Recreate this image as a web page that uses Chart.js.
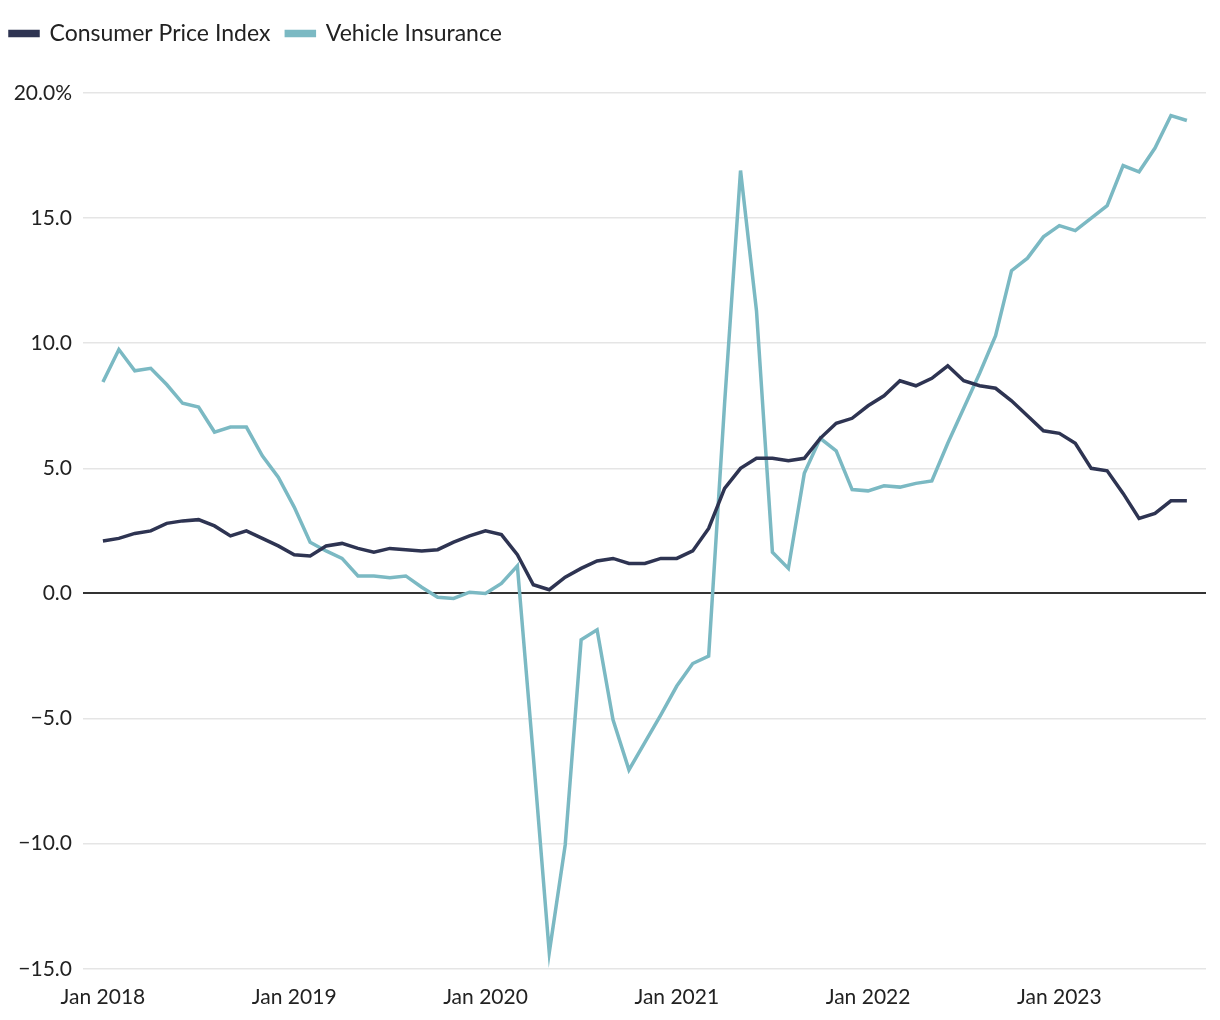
<!DOCTYPE html>
<html>
<head>
<meta charset="utf-8">
<script src="https://cdn.jsdelivr.net/npm/chart.js@4.4.0/dist/chart.umd.min.js"></script>
<style>
  html, body { margin: 0; padding: 0; background: #fff; }
  #wrap { width: 1220px; height: 1020px; }
</style>
</head>
<body>
<div id="wrap"><canvas id="myChart" width="1220" height="1020"></canvas></div>
<script>
// monthly categories, Jan 2018 .. Sep 2023
const years = [2018, 2019, 2020, 2021, 2022, 2023];
const monthNames = ["Jan","Feb","Mar","Apr","May","Jun","Jul","Aug","Sep","Oct","Nov","Dec"];
const months = [];
years.forEach(y => monthNames.forEach(m => months.push(m + " " + y)));
months.length = 69;

// year-over-year change, %
const cpi = [2.1, 2.2, 2.4, 2.5, 2.8, 2.9, 2.95, 2.7, 2.3, 2.5, 2.2, 1.9,
  1.55, 1.5, 1.9, 2.0, 1.8, 1.65, 1.8, 1.75, 1.7, 1.75, 2.05, 2.3,
  2.5, 2.35, 1.55, 0.35, 0.15, 0.65, 1.0, 1.3, 1.4, 1.2, 1.2, 1.4,
  1.4, 1.7, 2.6, 4.2, 5.0, 5.4, 5.4, 5.3, 5.4, 6.2, 6.8, 7.0,
  7.5, 7.9, 8.5, 8.3, 8.6, 9.1, 8.5, 8.3, 8.2, 7.7, 7.1, 6.5,
  6.4, 6.0, 5.0, 4.9, 4.0, 3.0, 3.2, 3.7, 3.7];
const vehicleIns = [8.45, 9.75, 8.9, 9.0, 8.35, 7.6, 7.45, 6.45, 6.65, 6.65, 5.5, 4.65,
  3.45, 2.05, 1.7, 1.4, 0.7, 0.7, 0.63, 0.7, 0.25, -0.15, -0.2, 0.05,
  0.0, 0.4, 1.1, -6.5, -14.35, -10.05, -1.85, -1.45, -5.05, -7.05, -5.95, -4.85,
  -3.7, -2.8, -2.5, 7.6, 16.9, 11.3, 1.65, 1.0, 4.8, 6.2, 5.7, 4.15,
  4.1, 4.3, 4.25, 4.4, 4.5, 6.0, 7.4, 8.8, 10.3, 12.9, 13.4, 14.25,
  14.7, 14.5, 15.0, 15.5, 17.1, 16.85, 17.8, 19.1, 18.9];

const yTicks = [-15, -10, -5, 0, 5, 10, 15, 20];
const xTickIdx = [0, 12, 24, 36, 48, 60];

const FONT = "'Source Sans Pro', Lato, 'Noto Sans', sans-serif";

// make the legend block taller so the plot starts lower
const legendSpace = {
  id: "legendSpace",
  beforeInit(chart) {
    const fit = chart.legend.fit;
    chart.legend.fit = function () {
      fit.bind(chart.legend)();
      this.height += 38;
    };
  }
};

const ctx = document.getElementById("myChart").getContext("2d");
const chart = new Chart(ctx, {
  type: "line",
  data: {
    datasets: [{
      label: "Consumer Price Index",
      data: cpi.map((v, i) => ({ x: i, y: v })),
      borderColor: "#2e3452",
      backgroundColor: "#2e3452",
      borderWidth: 3.5,
      pointRadius: 0,
      tension: 0
    }, {
      label: "Vehicle Insurance",
      data: vehicleIns.map((v, i) => ({ x: i, y: v })),
      borderColor: "#7bb9c3",
      backgroundColor: "#7bb9c3",
      borderWidth: 3.5,
      pointRadius: 0,
      tension: 0
    }]
  },
  plugins: [legendSpace],
  options: {
    responsive: false,
    animation: false,
    devicePixelRatio: 1,
    layout: { padding: { left: -6, right: 14, top: 6, bottom: 2 } },
    plugins: {
      tooltip: { enabled: false },
      legend: {
        position: "top",
        align: "start",
        labels: {
          boxWidth: 28,
          boxHeight: 4,
          padding: 16,
          color: "#222",
          font: { family: FONT, size: 23 }
        }
      }
    },
    scales: {
      x: {
        type: "linear",
        min: -1.25,
        max: 69.2,
        grid: { display: false },
        border: { display: false },
        afterBuildTicks: s => { s.ticks = xTickIdx.map(v => ({ value: v })); },
        ticks: {
          autoSkip: false,
          maxRotation: 0,
          padding: 8,
          color: "#222",
          font: { family: FONT, size: 21 },
          callback: v => months[v]
        }
      },
      y: {
        min: -15,
        max: 20,
        afterBuildTicks: s => { s.ticks = yTicks.map(v => ({ value: v })); },
        afterFit: s => { s.width = 89; },
        border: { display: false },
        grid: {
          drawTicks: false,
          color: c => c.tick.value === 0 ? "#333333" : "#e5e5e5",
          lineWidth: c => c.tick.value === 0 ? 2 : 1.5
        },
        ticks: {
          padding: 11,
          color: "#222",
          font: { family: FONT, size: 21 },
          callback: v => v === 20 ? "20.0%" : v.toFixed(1).replace("-", "\u2212")
        }
      }
    }
  }
});
</script>
</body>
</html>
